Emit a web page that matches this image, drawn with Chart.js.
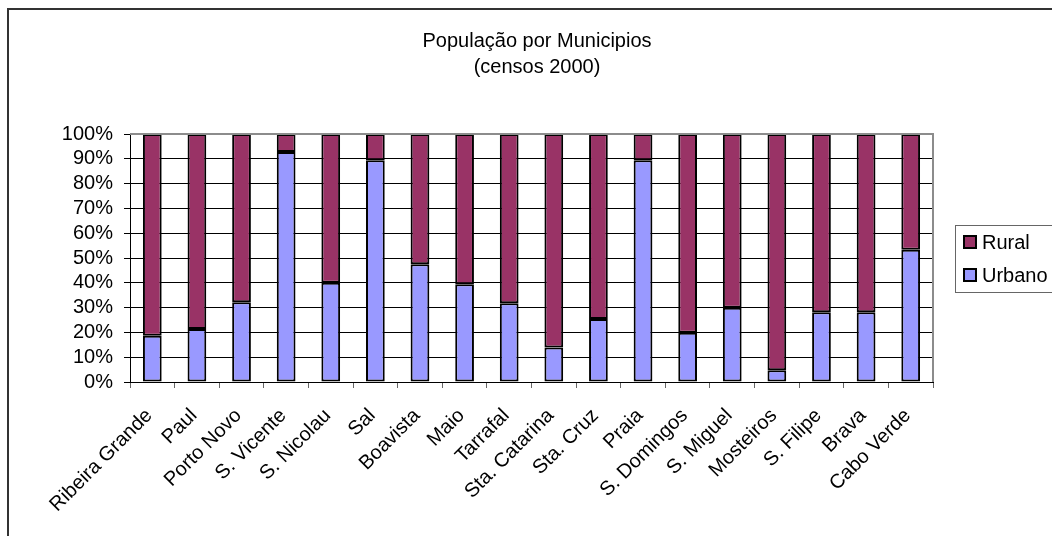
<!DOCTYPE html>
<html>
<head>
<meta charset="utf-8">
<script src="https://cdn.jsdelivr.net/npm/chart.js@4/dist/chart.umd.min.js"></script>
<style>
  body { margin: 0; background: #fff; }
  canvas { display: block; }
</style>
</head>
<body>
<canvas id="myChart" width="1052" height="536"></canvas>
<script>
var municipios = ['Ribeira Grande', 'Paul', 'Porto Novo', 'S. Vicente', 'S. Nicolau', 'Sal', 'Boavista',
    'Maio', 'Tarrafal', 'Sta. Catarina', 'Sta. Cruz', 'Praia', 'S. Domingos', 'S. Miguel',
    'Mosteiros', 'S. Filipe', 'Brava', 'Cabo Verde'];
var urbano = [18.6, 21.4, 32.2, 92.7, 40.0, 89.4, 47.5, 39.4, 31.8, 13.9, 25.4, 89.4, 19.9, 29.9, 4.7, 28.1, 28.1, 53.3];
var rural = [81.4, 78.6, 67.8, 7.3, 60.0, 10.6, 52.5, 60.6, 68.2, 86.1, 74.6, 10.6, 80.1, 70.1, 95.3, 71.9, 71.9, 46.7];
var titulo = ['População por Municipios', '(censos 2000)'];
var yTicks = [0, 10, 20, 30, 40, 50, 60, 70, 80, 90, 100];

var fonte = '"Liberation Sans", Arial, sans-serif';
Chart.defaults.font.family = fonte;
Chart.defaults.font.size = 20;
Chart.defaults.color = '#000';

// moldura, titulo e legenda desenhados a mao
var extras = {
    id: 'extras',
    afterDraw: function (chart) {
        var c = chart.ctx;
        var a = chart.chartArea;
        c.save();
        // borda do grafico
        c.strokeStyle = '#333';
        c.lineWidth = 2;
        c.beginPath();
        c.moveTo(8, 540);
        c.lineTo(8, 9);
        c.lineTo(1060, 9);
        c.stroke();
        // borda cinza da area de plotagem (topo e direita)
        c.strokeStyle = '#8c8c8c';
        c.lineWidth = 2;
        c.beginPath();
        c.moveTo(a.left, a.top);
        c.lineTo(a.right, a.top);
        c.lineTo(a.right, a.bottom);
        c.stroke();
        // titulo
        c.fillStyle = '#000';
        c.font = '20px ' + fonte;
        c.textAlign = 'center';
        c.textBaseline = 'middle';
        c.fillText(titulo[0], 537, 41);
        c.fillText(titulo[1], 537, 67);
        // legenda
        c.strokeStyle = '#666';
        c.lineWidth = 1;
        c.strokeRect(955.5, 225.5, 110, 67);
        var ds = chart.data.datasets;
        var ys = [242, 275];
        var ordem = [1, 0];
        c.textAlign = 'left';
        for (var i = 0; i < ordem.length; i++) {
            var d = ds[ordem[i]];
            c.fillStyle = d.backgroundColor;
            c.fillRect(964, ys[i] - 6, 12, 12);
            c.strokeStyle = '#000';
            c.lineWidth = 2;
            c.strokeRect(964, ys[i] - 6, 12, 12);
            c.fillStyle = '#000';
            c.fillText(d.label, 982, ys[i] + 1);
        }
        c.restore();
    }
};

var ctx = document.getElementById('myChart').getContext('2d');
var myBarChart = new Chart(ctx, {
    type: 'bar',
    data: {
        labels: municipios,
        datasets: [{
            label: 'Urbano',
            data: urbano,
            backgroundColor: '#9999FF',
            borderColor: '#000',
            borderWidth: 2,
            borderSkipped: false,
            barPercentage: 0.42,
            categoryPercentage: 1
        }, {
            label: 'Rural',
            data: rural,
            backgroundColor: '#993366',
            borderColor: '#000',
            borderWidth: 2,
            borderSkipped: false,
            barPercentage: 0.42,
            categoryPercentage: 1
        }]
    },
    options: {
        responsive: false,
        maintainAspectRatio: false,
        animation: false,
        layout: {
            padding: { left: 0, top: 134, right: 119, bottom: 0 }
        },
        plugins: {
            legend: { display: false },
            title: { display: false },
            tooltip: { enabled: false }
        },
        scales: {
            x: {
                stacked: true,
                grid: {
                    drawOnChartArea: false,
                    offset: true,
                    color: '#666',
                    tickLength: 6
                },
                border: { color: '#000', width: 1 },
                ticks: {
                    autoSkip: false,
                    minRotation: 45,
                    maxRotation: 45,
                    padding: 16,
                    labelOffset: -3,
                    color: '#000'
                },
                afterFit: function (scale) { scale.height = 154; }
            },
            y: {
                stacked: true,
                min: 0,
                max: 100,
                grid: {
                    color: '#000',
                    tickLength: 6
                },
                border: { color: '#000', width: 1 },
                ticks: {
                    autoSkip: false,
                    stepSize: 10,
                    padding: 11,
                    color: '#000',
                    callback: function (v) { return yTicks.indexOf(v) >= 0 ? v + '%' : ''; }
                },
                afterFit: function (scale) { scale.width = 130; }
            }
        }
    },
    plugins: [extras]
});
</script>
</body>
</html>
